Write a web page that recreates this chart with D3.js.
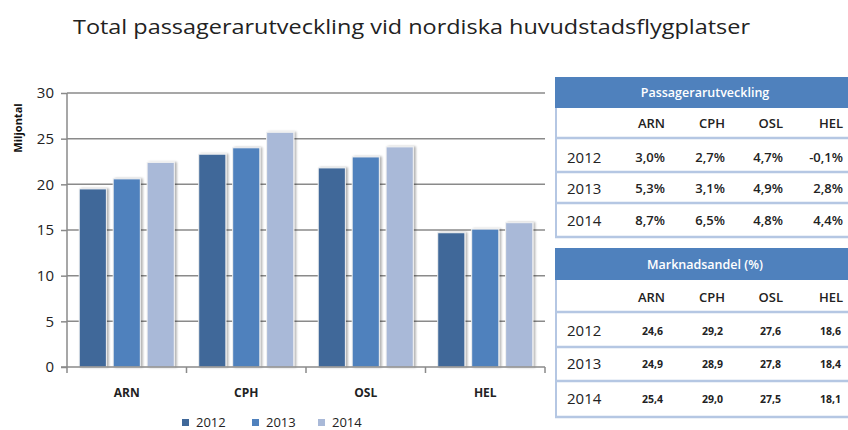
<!DOCTYPE html>
<html>
<head>
<meta charset="utf-8">
<script src="https://cdn.jsdelivr.net/npm/d3@7"></script>
<style>
  body { margin: 0; background: #fff; }
  svg { font-family: 'Open Sans', sans-serif; }
</style>
</head>
<body>
<svg id="chart"></svg>
<script>
const width = 848;
const height = 430;

// data
const airports = ['ARN', 'CPH', 'OSL', 'HEL'];
const years = ['2012', '2013', '2014'];
const pax2012 = [19.5, 23.3, 21.8, 14.7];
const pax2013 = [20.6, 24.0, 23.0, 15.1];
const pax2014 = [22.4, 25.7, 24.1, 15.8];
const yTicks = [0, 5, 10, 15, 20, 25, 30];

const growth2012 = ['3,0%', '2,7%', '4,7%', '-0,1%'];
const growth2013 = ['5,3%', '3,1%', '4,9%', '2,8%'];
const growth2014 = ['8,7%', '6,5%', '4,8%', '4,4%'];
const share2012 = ['24,6', '29,2', '27,6', '18,6'];
const share2013 = ['24,9', '28,9', '27,8', '18,4'];
const share2014 = ['25,4', '29,0', '27,5', '18,1'];

const colors = ['#3f6899', '#4f81bd', '#a9b9d8'];
const values = [pax2012, pax2013, pax2014];

const svg = d3.select('#chart')
  .attr('width', width)
  .attr('height', height);

svg.append('defs').append('filter')
  .attr('id', 'shadow')
  .attr('x', '-20%').attr('y', '-5%').attr('width', '150%').attr('height', '110%')
  .append('feDropShadow')
    .attr('dx', 2).attr('dy', 0).attr('stdDeviation', 1.2)
    .attr('flood-color', '#000').attr('flood-opacity', 0.3);

// title
svg.append('text')
  .attr('x', 73)
  .attr('y', 34)
  .attr('textLength', 677)
  .attr('lengthAdjust', 'spacingAndGlyphs')
  .style('font-size', '20px')
  .style('fill', '#222')
  .text('Total passagerarutveckling vid nordiska huvudstadsflygplatser');

// scales
const x = d3.scaleBand().domain(airports).range([67, 545]);
const x1 = d3.scaleBand().domain(years).range([0, x.bandwidth()])
  .paddingInner(0.2).paddingOuter(0.36);
const y = d3.scaleLinear().domain([0, 30]).range([367, 93]);

// grid + y axis
const yAxis = svg.append('g')
  .attr('transform', 'translate(67,0)')
  .call(d3.axisLeft(y).tickValues(yTicks).tickSize(6).tickPadding(7));
yAxis.select('.domain').remove();
yAxis.selectAll('.tick line').attr('stroke', '#8a8a8a').attr('stroke-width', 1.5);
yAxis.selectAll('.tick text')
  .style('font-size', '15px')
  .style('fill', '#222')
  .style('font-family', "'Open Sans', sans-serif");

svg.append('g').selectAll('line')
  .data(yTicks.filter(d => d > 0))
  .enter().append('line')
    .attr('x1', 67).attr('x2', 545)
    .attr('y1', d => y(d)).attr('y2', d => y(d))
    .attr('stroke', '#8a8a8a')
    .attr('stroke-width', 1.5);

// bars
const groups = svg.append('g').selectAll('g')
  .data(airports)
  .enter().append('g')
    .attr('transform', d => `translate(${x(d)},0)`);

groups.selectAll('rect')
  .data((d, i) => years.map((yr, j) => ({ yr, v: values[j][i], c: colors[j] })))
  .enter().append('rect')
    .attr('x', d => x1(d.yr))
    .attr('y', d => y(d.v))
    .attr('width', x1.bandwidth())
    .attr('height', d => y(0) - y(d.v))
    .attr('fill', d => d.c)
    .attr('stroke', '#f2f2f2')
    .attr('stroke-width', 1)
    .attr('filter', 'url(#shadow)');

// axes lines
svg.append('line')
  .attr('x1', 67).attr('x2', 67).attr('y1', 93).attr('y2', 367)
  .attr('stroke', '#8a8a8a').attr('stroke-width', 1.5);
svg.append('line')
  .attr('x1', 61).attr('x2', 545).attr('y1', 367).attr('y2', 367)
  .attr('stroke', '#8a8a8a').attr('stroke-width', 1.5);

const bounds = airports.map(a => x(a)).concat([x(airports[airports.length - 1]) + x.bandwidth()]);
svg.append('g').selectAll('line')
  .data(bounds)
  .enter().append('line')
    .attr('x1', d => d).attr('x2', d => d)
    .attr('y1', 367).attr('y2', 373)
    .attr('stroke', '#8a8a8a').attr('stroke-width', 1.5);

svg.append('g').selectAll('text')
  .data(airports)
  .enter().append('text')
    .attr('x', d => x(d) + x.bandwidth() / 2)
    .attr('y', 397)
    .attr('text-anchor', 'middle')
    .style('font-size', '12px')
    .style('font-weight', 'bold')
    .style('fill', '#222')
    .text(d => d);

// y label
svg.append('text')
  .attr('transform', 'translate(22,128) rotate(-90)')
  .attr('text-anchor', 'middle')
  .style('font-size', '11px')
  .style('font-weight', 'bold')
  .style('fill', '#111')
  .text('Miljontal');

// legend
const legendX = [182, 252, 318];
const legend = svg.append('g').selectAll('g')
  .data(years)
  .enter().append('g')
    .attr('transform', (d, i) => `translate(${legendX[i]},422)`);
legend.append('rect')
  .attr('x', 0).attr('y', -3).attr('width', 7).attr('height', 7)
  .attr('fill', (d, i) => colors[i]);
legend.append('text')
  .attr('x', 14).attr('y', 4.5)
  .style('font-size', '13px')
  .style('fill', '#222')
  .text(d => d);

// tables
const colRight = [665, 725, 783, 843];

function drawTable(top, title, headerH, rowYs, seps, rows, valueStyle) {
  const g = svg.append('g');
  g.append('rect')
    .attr('x', 555).attr('y', top)
    .attr('width', width - 555).attr('height', headerH)
    .attr('fill', '#4f81bd');
  g.append('text')
    .attr('x', 705).attr('y', top + headerH / 2 + 4.5)
    .attr('text-anchor', 'middle')
    .style('font-size', '12.5px')
    .style('font-weight', 600)
    .style('fill', '#fff')
    .text(title);
  g.append('line')
    .attr('x1', 556).attr('x2', 556)
    .attr('y1', top + headerH).attr('y2', seps[seps.length - 1])
    .attr('stroke', '#b5c7e3').attr('stroke-width', 2);
  g.selectAll('.sep')
    .data(seps)
    .enter().append('line')
      .attr('x1', 555).attr('x2', width)
      .attr('y1', d => d).attr('y2', d => d)
      .attr('stroke', '#b5c7e3').attr('stroke-width', 2.5);
  // column headers
  g.selectAll('.colhead')
    .data(airports)
    .enter().append('text')
      .attr('x', (d, i) => colRight[i])
      .attr('y', rowYs[0] + 5)
      .attr('text-anchor', 'end')
      .style('font-size', '13px')
      .style('font-weight', 600)
      .style('fill', '#222')
      .text(d => d);
  rows.forEach((row, r) => {
    g.append('text')
      .attr('x', 567).attr('y', rowYs[r + 1] + 5.5)
      .style('font-size', '15px')
      .style('fill', '#222')
      .text(years[r]);
    g.selectAll('.v' + r)
      .data(row)
      .enter().append('text')
        .attr('x', (d, i) => colRight[i] - valueStyle.inset)
        .attr('y', rowYs[r + 1] + 5)
        .attr('text-anchor', 'end')
        .style('font-size', valueStyle.size)
        .style('font-weight', valueStyle.weight)
        .style('fill', '#222')
        .text(d => d);
  });
}

drawTable(77, 'Passagerarutveckling', 31, [123, 157, 188, 220], [138, 172, 203, 237],
  [growth2012, growth2013, growth2014], { size: '13px', inset: 0, weight: 600 });
drawTable(248, 'Marknadsandel  (%)', 32, [297, 330, 363, 398], [312, 347, 381, 417],
  [share2012, share2013, share2014], { size: '10.5px', inset: 2, weight: 'bold' });
</script>
</body>
</html>
